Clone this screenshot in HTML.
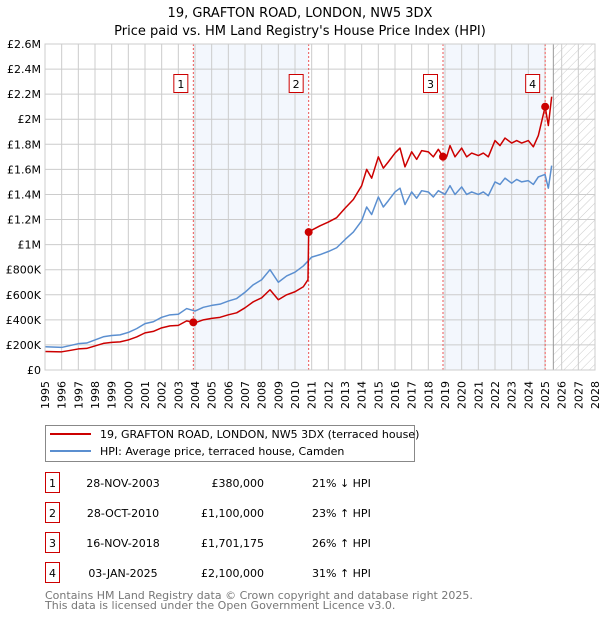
<!DOCTYPE html>
<html><head><meta charset="utf-8"><style>
body{margin:0;background:#fff;width:600px;height:620px;overflow:hidden}
svg{font-family:"DejaVu Sans","Liberation Sans",sans-serif}
</style></head><body>
<svg id="chart" width="600" height="620">
<defs><pattern id="hatch" width="6" height="6" patternUnits="userSpaceOnUse" patternTransform="rotate(45)"><line x1="0" y1="0" x2="0" y2="6" stroke="#ccc" stroke-width="1"/></pattern></defs>
<text x="300" y="17" text-anchor="middle" font-size="13">19, GRAFTON ROAD, LONDON, NW5 3DX</text>
<text x="300" y="35" text-anchor="middle" font-size="13">Price paid vs. HM Land Registry's House Price Index (HPI)</text>
<g id="plot"></g>
<g>
<rect x="45.5" y="425.5" width="369" height="36" fill="#fff" stroke="#888"/>
<line x1="50" y1="434" x2="91" y2="434" stroke="#cc0000" stroke-width="2"/>
<text x="100" y="438" font-size="11">19, GRAFTON ROAD, LONDON, NW5 3DX (terraced house)</text>
<line x1="50" y1="451" x2="91" y2="451" stroke="#5b8fd0" stroke-width="2"/>
<text x="100" y="455" font-size="11">HPI: Average price, terraced house, Camden</text>
</g>
<g id="table" font-size="11"></g>
<text x="45" y="599" font-size="11" fill="#777">Contains HM Land Registry data © Crown copyright and database right 2025.</text>
<text x="45" y="609" font-size="11" fill="#777">This data is licensed under the Open Government Licence v3.0.</text>
</svg>
<script>
const hpiYears=[1995,1996,1996.5,1997,1997.5,1998,1998.5,1999,1999.5,2000,2000.5,2001,2001.5,2002,2002.5,2003,2003.5,2004,2004.5,2005,2005.5,2006,2006.5,2007,2007.5,2008,2008.5,2009,2009.5,2010,2010.5,2011,2011.5,2012,2012.5,2013,2013.5,2014,2014.3,2014.6,2015,2015.3,2015.6,2016,2016.3,2016.6,2017,2017.3,2017.6,2018,2018.3,2018.6,2019,2019.3,2019.6,2020,2020.3,2020.6,2021,2021.3,2021.6,2022,2022.3,2022.6,2023,2023.3,2023.6,2024,2024.3,2024.6,2025,2025.2,2025.4];
const hpiValues=[185,180,195,210,215,240,265,275,280,300,330,370,385,420,440,445,490,470,500,515,525,550,570,620,680,720,800,700,750,780,830,900,920,945,975,1040,1100,1190,1300,1240,1380,1300,1350,1420,1450,1320,1420,1370,1430,1420,1380,1430,1400,1470,1400,1460,1400,1420,1400,1420,1390,1500,1480,1530,1490,1520,1500,1510,1480,1540,1560,1450,1630];
const priceYears=[1995,1996,1996.5,1997,1997.5,1998,1998.5,1999,1999.5,2000,2000.5,2001,2001.5,2002,2002.5,2003,2003.5,2003.9,2004,2004.5,2005,2005.5,2006,2006.5,2007,2007.5,2008,2008.5,2009,2009.5,2010,2010.5,2010.78,2010.82,2011,2011.5,2012,2012.5,2013,2013.5,2014,2014.3,2014.6,2015,2015.3,2015.6,2016,2016.3,2016.6,2017,2017.3,2017.6,2018,2018.3,2018.6,2018.88,2019.1,2019.3,2019.6,2020,2020.3,2020.6,2021,2021.3,2021.6,2022,2022.3,2022.6,2023,2023.3,2023.6,2024,2024.3,2024.6,2025.01,2025.2,2025.4];
const priceValues=[148,145,156,168,172,192,212,220,224,240,264,296,308,336,352,356,392,380,376,400,412,420,440,456,496,544,576,640,560,600,624,664,720,1100,1115,1150,1180,1215,1290,1360,1470,1600,1530,1700,1610,1660,1730,1770,1620,1740,1680,1750,1740,1700,1760,1701,1700,1790,1700,1770,1700,1730,1710,1730,1700,1830,1790,1850,1810,1830,1810,1830,1780,1870,2100,1950,2180];
const yTicks=[0,200,400,600,800,1000,1200,1400,1600,1800,2000,2200,2400,2600];
const yTickLabels=["£0","£200K","£400K","£600K","£800K","£1M","£1.2M","£1.4M","£1.6M","£1.8M","£2M","£2.2M","£2.4M","£2.6M"];
const saleYears=[2003.9,2010.82,2018.88,2025.01];
const saleValues=[380,1100,1701.175,2100];
const saleLabels=["1","2","3","4"];
const saleDates=["28-NOV-2003","28-OCT-2010","16-NOV-2018","03-JAN-2025"];
const salePrices=["£380,000","£1,100,000","£1,701,175","£2,100,000"];
const saleDiffs=["21% ↓ HPI","23% ↑ HPI","26% ↑ HPI","31% ↑ HPI"];
const X0=45,X1=595,Y0=370,Y1=44,XMIN=1995,XMAX=2028,VMAX=2600;
const sx=y=>X0+(y-XMIN)/(XMAX-XMIN)*(X1-X0);
const sy=v=>Y0-v/VMAX*(Y0-Y1);
const NS="http://www.w3.org/2000/svg";
function mk(tag,attrs,parent){const e=document.createElementNS(NS,tag);for(const k in attrs)e.setAttribute(k,attrs[k]);parent.appendChild(e);return e;}
const plot=document.getElementById('plot');
for(const [a,b] of [[0,1],[2,3]]){
 const r=mk('rect',{x:sx(saleYears[a]),y:Y1,width:sx(saleYears[b])-sx(saleYears[a]),height:Y0-Y1,fill:'#eef3fc',opacity:0.7},plot);
 
 
}
const h=mk('rect',{x:sx(2025.5),y:Y1,width:X1-sx(2025.5),height:Y0-Y1,fill:'url(#hatch)'},plot);


for(let yr=XMIN;yr<=XMAX;yr++){
 mk('line',{x1:sx(yr),x2:sx(yr),y1:Y1,y2:Y0,stroke:'#ccc','stroke-width':1},plot);
 const lx=sx(yr)+4, ly=381;
 const t=mk('text',{x:lx,y:ly,'font-size':11,'text-anchor':'end',transform:`rotate(-90 ${lx} ${ly})`},plot);
 t.textContent=yr;
 
 
}
yTicks.forEach((v,i)=>{
 mk('line',{x1:X0,x2:X1,y1:sy(v),y2:sy(v),stroke:'#ccc','stroke-width':1},plot);
 const t=mk('text',{x:X0-4,y:sy(v)+4,'font-size':11,'text-anchor':'end'},plot);
 t.textContent=yTickLabels[i];
 
 
});
mk('line',{x1:sx(2025.5),x2:sx(2025.5),y1:Y1,y2:Y0,stroke:'#999','stroke-width':1},plot);
saleYears.forEach((y,i)=>{
 mk('line',{x1:sx(y),x2:sx(y),y1:Y1,y2:Y0,stroke:'#e55','stroke-width':1,'stroke-dasharray':'2,2'},plot);
 const r=mk('rect',{x:sx(y)-19.5,y:74.5,width:14,height:18,fill:'#fff',stroke:'#c00'},plot);
 
 
 const t=mk('text',{x:sx(y)-12.5,y:88,'font-size':11,'text-anchor':'middle'},plot);
 t.textContent=saleLabels[i];
});
function line(xs,vs,color,name){
 const p=mk('polyline',{points:xs.map((x,i)=>sx(x)+','+sy(vs[i])).join(' '),fill:'none',stroke:color,'stroke-width':1.5,'stroke-linejoin':'round'},plot);
 
 
}
line(hpiYears,hpiValues,'#5b8fd0','hpi-line');
line(priceYears,priceValues,'#cc0000','price-line');
saleYears.forEach((y,i)=>{
 const c=mk('circle',{cx:sx(y),cy:sy(saleValues[i]),r:4,fill:'#cc0000'},plot);
 
 
});
mk('rect',{x:X0,y:Y1,width:X1-X0,height:Y0-Y1,fill:'none',stroke:'#ccc'},plot);
const tb=document.getElementById('table');
saleLabels.forEach((l,i)=>{
 const cy=483+30*i;
 const r=mk('rect',{x:45.5,y:cy-10.5,width:14,height:20,fill:'#fff',stroke:'#c00'},tb);
 
 
 const a=mk('text',{x:52.5,y:cy+4,'text-anchor':'middle'},tb);a.textContent=l;
 const d=mk('text',{x:123,y:cy+4,'text-anchor':'middle'},tb);d.textContent=saleDates[i];
 
 
 const p=mk('text',{x:264,y:cy+4,'text-anchor':'end'},tb);p.textContent=salePrices[i];
 
 
 const q=mk('text',{x:312,y:cy+4},tb);q.textContent=saleDiffs[i];
 
 
});
</script>
</body></html>
